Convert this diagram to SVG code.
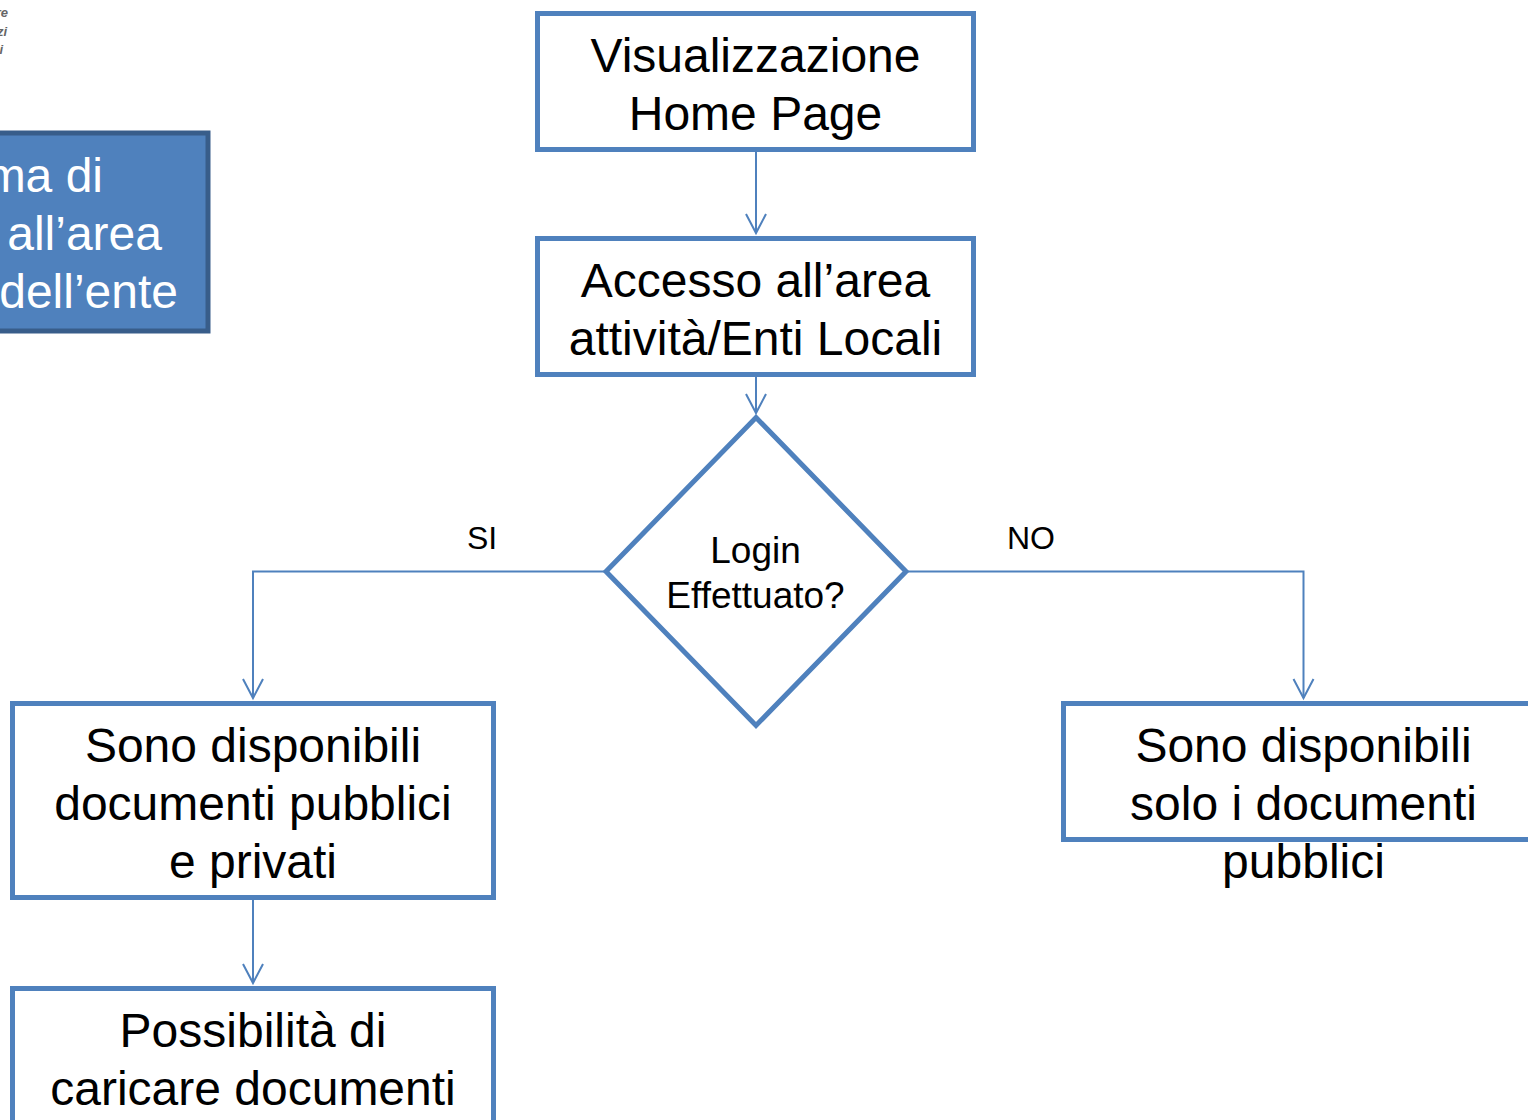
<svg xmlns="http://www.w3.org/2000/svg" width="1528" height="1120" viewBox="0 0 1528 1120">
<style>
text{font-family:"Liberation Sans",Arial,sans-serif;fill:#000;text-anchor:middle}
.t{font-size:48px}
.m{font-size:37px}
.l{font-size:32px}
.n{fill:#fff;stroke:#4f81bd;stroke-width:5}
.c{fill:none;stroke:#4f81bd;stroke-width:2}
.w{fill:#fff;text-anchor:end}
.f{font-size:13px;font-style:italic;font-weight:bold;fill:#666;text-anchor:end}
</style>
<defs><marker id="a" markerUnits="userSpaceOnUse" markerWidth="24" markerHeight="24" refX="20" refY="11" orient="auto" overflow="visible"><path d="M1 1L20 11L1 21" fill="none" stroke="#4f81bd" stroke-width="2"/></marker></defs>
<rect width="1528" height="1120" fill="#fff"/>
<g id="logo-fragment"><text class="f" x="8" y="17">re</text><text class="f" x="7" y="36">zi</text><text class="f" x="3" y="54">i</text></g>
<g id="connectors">
<path class="c" d="M756 150V233" marker-end="url(#a)"/>
<path class="c" d="M756 375V413" marker-end="url(#a)"/>
<path class="c" d="M605 571.500H253V698" marker-end="url(#a)"/>
<path class="c" d="M907 571.500H1303.500V698" marker-end="url(#a)"/>
<path class="c" d="M253 898V983" marker-end="url(#a)"/>
</g>
<g id="title"><rect x="-20" y="133" width="228" height="198" fill="#4f81bd" stroke="#385d8a" stroke-width="5"/>
<text class="t w" x="103" y="192">ma di</text><text class="t w" x="162" y="250">all’area</text><text class="t w" x="178" y="308">dell’ente</text></g>
<g id="n1"><rect class="n" x="537.500" y="13.500" width="436" height="136"/><text class="t" x="755.500" y="72">Visualizzazione</text><text class="t" x="755.500" y="130">Home Page</text></g>
<g id="n2"><rect class="n" x="537.500" y="238.500" width="436" height="136"/><text class="t" x="755.500" y="297">Accesso all’area</text><text class="t" x="755.500" y="355">attività/Enti Locali</text></g>
<g id="n3"><path class="n" d="M756 417.500L906 571.500L756 725.500L606 571.500Z" stroke-linejoin="miter"/><text class="m" x="755.500" y="563">Login</text><text class="m" x="755.500" y="608">Effettuato?</text></g>
<g id="n4"><rect class="n" x="12.500" y="703.500" width="481" height="194"/><text class="t" x="253" y="762">Sono disponibili</text><text class="t" x="253" y="820">documenti pubblici</text><text class="t" x="253" y="878">e privati</text></g>
<g id="n5"><rect class="n" x="1063.500" y="703.500" width="480" height="136"/><text class="t" x="1303.500" y="762">Sono disponibili</text><text class="t" x="1303.500" y="820">solo i documenti</text><text class="t" x="1303.500" y="878">pubblici</text></g>
<g id="n6"><rect class="n" x="12.500" y="988.500" width="481" height="194"/><text class="t" x="253" y="1047">Possibilità di</text><text class="t" x="253" y="1105">caricare documenti</text></g>
<g id="labels"><text class="l" x="482" y="549">SI</text><text class="l" x="1031" y="549">NO</text></g>
</svg>
